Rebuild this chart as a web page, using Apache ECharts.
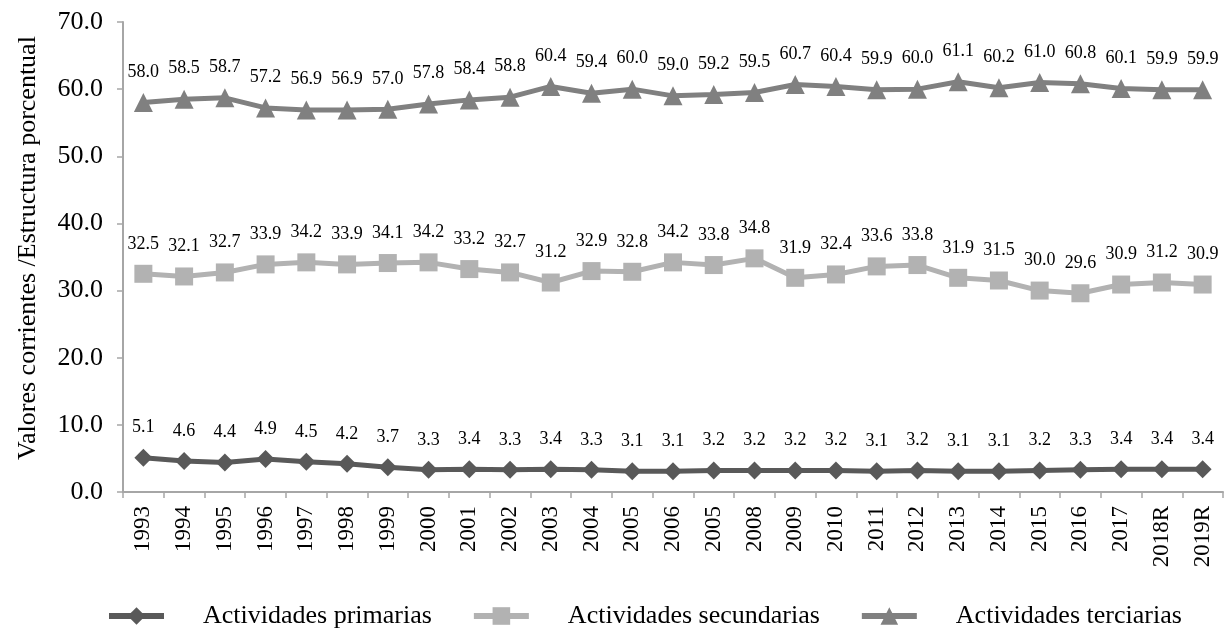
<!DOCTYPE html>
<html>
<head>
<meta charset="utf-8">
<script src="https://cdn.jsdelivr.net/npm/echarts@6/dist/echarts.min.js"></script>
<style>
  html, body { margin: 0; padding: 0; background: #fff; }
  #chart { width: 1231px; height: 631px; }
</style>
</head>
<body>
<div id="chart"></div>
<script>
// Years shown on the category axis
const years = ['1993', '1994', '1995', '1996', '1997', '1998', '1999', '2000', '2001', '2002',
  '2003', '2004', '2005', '2006', '2005', '2008', '2009', '2010', '2011', '2012',
  '2013', '2014', '2015', '2016', '2017', '2018R', '2019R'];

// Percentage structure by sector
const primarias = [5.1, 4.6, 4.4, 4.9, 4.5, 4.2, 3.7, 3.3, 3.4, 3.3,
  3.4, 3.3, 3.1, 3.1, 3.2, 3.2, 3.2, 3.2, 3.1, 3.2,
  3.1, 3.1, 3.2, 3.3, 3.4, 3.4, 3.4];
const secundarias = [32.5, 32.1, 32.7, 33.9, 34.2, 33.9, 34.1, 34.2, 33.2, 32.7,
  31.2, 32.9, 32.8, 34.2, 33.8, 34.8, 31.9, 32.4, 33.6, 33.8,
  31.9, 31.5, 30.0, 29.6, 30.9, 31.2, 30.9];
const terciarias = [58.0, 58.5, 58.7, 57.2, 56.9, 56.9, 57.0, 57.8, 58.4, 58.8,
  60.4, 59.4, 60.0, 59.0, 59.2, 59.5, 60.7, 60.4, 59.9, 60.0,
  61.1, 60.2, 61.0, 60.8, 60.1, 59.9, 59.9];

const serifFont = '"Liberation Serif", "Times New Roman", serif';
const axisGray = '#a6a6a6';

function lineSeries(name, data, color, symbol, size) {
  return {
    name: name,
    type: 'line',
    data: data,
    symbol: symbol,
    symbolSize: size,
    itemStyle: { color: color },
    lineStyle: { color: color, width: 5 },
    label: {
      show: true,
      position: 'top',
      distance: 12,
      color: '#000',
      fontFamily: serifFont,
      fontSize: 18,
      formatter: p => p.value.toFixed(1)
    },
    animation: false
  };
}

const chart = echarts.init(document.getElementById('chart'));
chart.setOption({
  backgroundColor: '#fff',
  textStyle: { fontFamily: serifFont },
  grid: { left: 123, right: 8, top: 22, bottom: 139 },
  legend: {
    top: 598,
    left: 101,
    itemWidth: 55,
    itemHeight: 22,
    itemGap: 39,
    lineStyle: { width: 6 },
    textStyle: { fontFamily: serifFont, fontSize: 26, color: '#000', padding: [0, 0, 0, 34] },
    data: ['Actividades primarias', 'Actividades secundarias', 'Actividades terciarias']
  },
  xAxis: {
    type: 'category',
    data: years,
    boundaryGap: true,
    axisLine: { lineStyle: { color: axisGray, width: 2 } },
    axisTick: { show: true, length: 6, lineStyle: { color: axisGray, width: 1.5 } },
    axisLabel: { rotate: 90, interval: 0, color: '#000', fontFamily: serifFont, fontSize: 23, margin: 14 }
  },
  yAxis: {
    type: 'value',
    min: 0,
    max: 70,
    interval: 10,
    name: 'Valores corrientes /Estructura porcentual',
    nameLocation: 'middle',
    nameGap: 82,
    nameTextStyle: { fontFamily: serifFont, fontSize: 26, color: '#000', padding: [0, 0, 0, 18] },
    axisLine: { show: true, lineStyle: { color: axisGray, width: 2 } },
    axisTick: { show: true, length: 6, lineStyle: { color: axisGray, width: 1.5 } },
    splitLine: { show: false },
    axisLabel: { color: '#000', fontFamily: serifFont, fontSize: 26, margin: 20, formatter: v => v.toFixed(1) }
  },
  series: [
    lineSeries('Actividades primarias', primarias, '#595959', 'diamond', 18),
    lineSeries('Actividades secundarias', secundarias, '#b2b2b2', 'rect', 18),
    lineSeries('Actividades terciarias', terciarias, '#808080', 'triangle', 19)
  ]
});
</script>
</body>
</html>
